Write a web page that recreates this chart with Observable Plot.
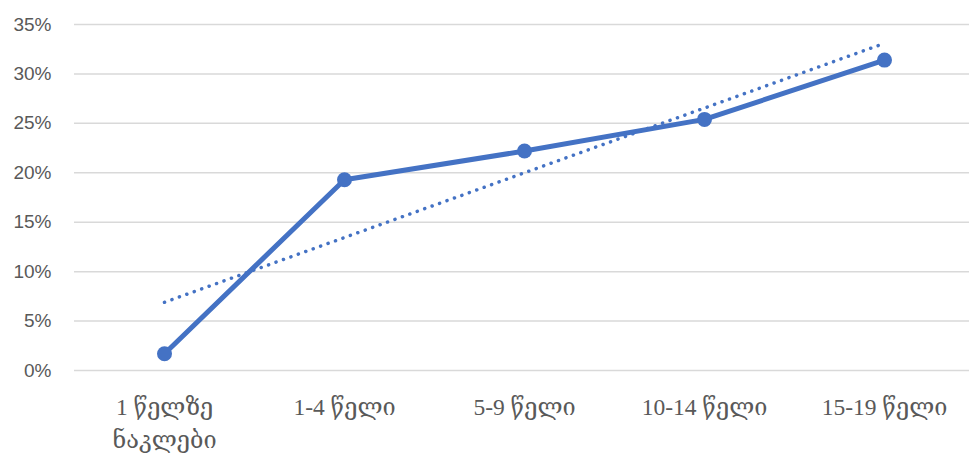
<!DOCTYPE html>
<html>
<head>
<meta charset="utf-8">
<script src="https://cdn.jsdelivr.net/npm/d3@7"></script>
<script src="https://cdn.jsdelivr.net/npm/@observablehq/plot@0.6"></script>
<style>
  html, body { margin: 0; padding: 0; background: #fff; overflow: hidden; }
</style>
</head>
<body>
<div id="chart"></div>
<script>
const categories = ["1 წელზე\nნაკლები", "1-4 წელი", "5-9 წელი", "10-14 წელი", "15-19 წელი"];
const values = [1.7, 19.3, 22.2, 25.4, 31.4];
const yTicks = [0, 5, 10, 15, 20, 25, 30, 35];

const data = categories.map((c, i) => ({i, c, v: values[i]}));
const blue = "#4472C4";

const chart = Plot.plot({
  width: 969,
  height: 458,
  marginLeft: 74,
  marginRight: 0,
  marginTop: 24,
  marginBottom: 88,
  style: {background: "#fff"},
  x: {type: "linear", domain: [-0.5, 4.5], range: [74, 974]},
  y: {domain: [0, 35]},
  marks: [
    Plot.ruleY(yTicks, {stroke: "#d9d9d9", strokeWidth: 1.5}),
    Plot.axisY({
      ticks: yTicks, tickSize: 0, tickPadding: 23,
      tickFormat: d => d + "%",
      fontSize: 19, fontFamily: "'Liberation Sans', Arial, sans-serif",
      fill: "#595959", label: null
    }),
    Plot.axisX({
      ticks: d3.range(categories.length), tickSize: 0, tickPadding: 21,
      tickFormat: i => categories[i],
      fontSize: 23.5, fontFamily: "'Liberation Serif', 'DejaVu Serif', 'DejaVu Sans', serif",
      lineHeight: 1.4,
      fill: "#595959", label: null
    }),
    Plot.linearRegressionY(data, {
      x: "i", y: "v", ci: 0,
      stroke: blue, strokeWidth: 3.5,
      strokeDasharray: "0.1 7.8", strokeLinecap: "round"
    }),
    Plot.line(data, {x: "i", y: "v", stroke: blue, strokeWidth: 5, strokeLinejoin: "round"}),
    Plot.dot(data, {x: "i", y: "v", r: 7.5, fill: blue, stroke: "none"})
  ]
});
document.getElementById("chart").appendChild(chart);
</script>
</body>
</html>
